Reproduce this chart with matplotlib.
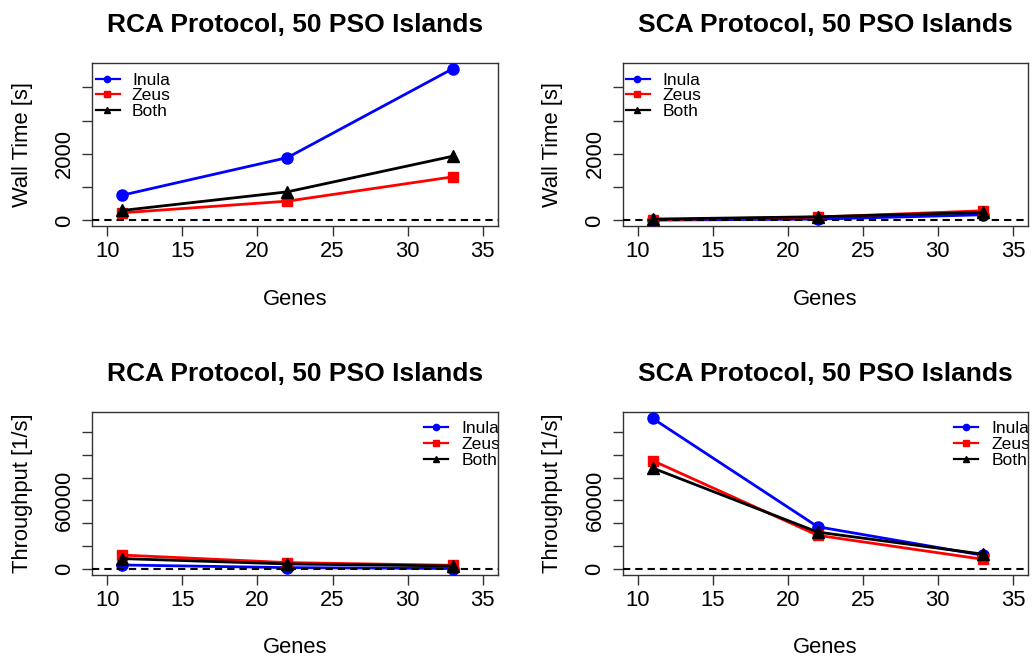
import matplotlib
matplotlib.use("Agg")
import matplotlib.pyplot as plt

plt.rcParams['font.family'] = ['Liberation Sans', 'DejaVu Sans']

# ---------------- data ----------------
genes = [11, 22, 33]
series_names = ["Inula", "Zeus", "Both"]

rca_wall_inula = [760, 1890, 4560]
rca_wall_zeus = [230, 580, 1310]
rca_wall_both = [300, 860, 1930]

sca_wall_inula = [10, 40, 170]
sca_wall_zeus = [20, 100, 290]
sca_wall_both = [40, 110, 240]

rca_thr_inula = [3500, 1200, 400]
rca_thr_zeus = [12200, 5600, 3200]
rca_thr_both = [9100, 4400, 2600]

sca_thr_inula = [132000, 37000, 12000]
sca_thr_zeus = [95000, 29500, 8500]
sca_thr_both = [88500, 32300, 13000]

x_ticks = [10, 15, 20, 25, 30, 35]
wall_ticks = [0, 1000, 2000, 3000, 4000]
wall_tick_labels = ["0", "", "2000", "", ""]
thr_ticks = [0, 20000, 40000, 60000, 80000, 100000, 120000]
thr_tick_labels = ["0", "", "", "60000", "", "", ""]

titles = ["RCA Protocol, 50 PSO Islands", "SCA Protocol, 50 PSO Islands"]

# ---------------- style ----------------
colors = ["#0000FF", "#FF0000", "#000000"]
markers = ["o", "s", "^"]
msizes = [8, 6.5, 8.5]
leg_msizes = [4.5, 4.0, 5.0]
FS_AX = 15.8
FS_TITLE = 19
FS_LEG = 12.6
SPINE = "#333333"

W, H = 1032, 658
fig = plt.figure(figsize=(W / 100, H / 100), dpi=100)


def px_axes(left, top, right, bottom):
    return fig.add_axes([left / W, 1 - bottom / H, (right - left) / W, (bottom - top) / H])


ax_tl = px_axes(92.3, 62.7, 497.7, 226.5)
ax_tr = px_axes(622.5, 62.7, 1027.9, 226.5)
ax_bl = px_axes(92.3, 412.3, 497.7, 575.0)
ax_br = px_axes(622.5, 412.3, 1027.9, 575.0)

wall_max = max(rca_wall_inula + rca_wall_zeus + rca_wall_both +
               sca_wall_inula + sca_wall_zeus + sca_wall_both)
thr_max = max(rca_thr_inula + rca_thr_zeus + rca_thr_both +
              sca_thr_inula + sca_thr_zeus + sca_thr_both)


def draw_legend(ax, x_line0, x_mark, x_line1, x_text, rows):
    for name, c, m, ms, fy in zip(series_names, colors, markers, leg_msizes, rows):
        ax.plot([x_line0, x_line1], [fy, fy], color=c, lw=1.6,
                transform=ax.transAxes, clip_on=True, zorder=6)
        ax.plot([x_mark], [fy], color=c, marker=m, ms=ms, lw=0,
                transform=ax.transAxes, clip_on=True, zorder=6)
        ax.text(x_text, fy, name, fontsize=FS_LEG, ha="left", va="center_baseline",
                transform=ax.transAxes, clip_on=True, zorder=6)


def panel(ax, data, ymax, yticks, ylabels, ylabel, title, legend_pos):
    for vals, c, m, ms in zip(data, colors, markers, msizes):
        ax.plot(genes, vals, color=c, marker=m, ms=ms, lw=2, zorder=3)
    ax.axhline(0, color="black", lw=1.5, dashes=(3.5, 2.4), zorder=4)
    ax.set_xlim(9, 36)
    ax.set_ylim(-0.04 * ymax, 1.04 * ymax)
    ax.set_xticks(x_ticks)
    ax.set_xticklabels([str(t) for t in x_ticks], fontsize=FS_AX)
    ax.set_yticks(yticks)
    ax.set_yticklabels(ylabels, fontsize=FS_AX, rotation=90, va="center")
    ax.tick_params(axis="both", direction="out", length=7.2, width=1.0, color=SPINE)
    ax.tick_params(axis="x", pad=3.5)
    ax.tick_params(axis="y", pad=5)
    for s in ax.spines.values():
        s.set_color(SPINE)
        s.set_linewidth(1.0)
    ax.set_xlabel("Genes", fontsize=FS_AX)
    ax.xaxis.label.set_va("baseline")
    ax.xaxis.set_label_coords(0.5, -0.479)
    ax.set_ylabel(ylabel, fontsize=FS_AX)
    ax.yaxis.label.set_rotation_mode("anchor")
    ax.yaxis.label.set_va("baseline")
    ax.yaxis.label.set_ha("center")
    ax.yaxis.set_label_coords(-0.158, 0.5)
    ax.set_title(title, fontsize=FS_TITLE, fontweight="bold", y=1.19, pad=0)
    if legend_pos == "topleft":
        draw_legend(ax, 0.0084, 0.037, 0.0683, 0.0979, [0.9005, 0.8071, 0.7094])
    else:
        draw_legend(ax, 0.8182, 0.8484, 0.8774, 0.9100, [0.9078, 0.8131, 0.7111])


panel(ax_tl, [rca_wall_inula, rca_wall_zeus, rca_wall_both], wall_max,
      wall_ticks, wall_tick_labels, "Wall Time [s]", titles[0], "topleft")
panel(ax_tr, [sca_wall_inula, sca_wall_zeus, sca_wall_both], wall_max,
      wall_ticks, wall_tick_labels, "Wall Time [s]", titles[1], "topleft")
panel(ax_bl, [rca_thr_inula, rca_thr_zeus, rca_thr_both], thr_max,
      thr_ticks, thr_tick_labels, "Throughput [1/s]", titles[0], "topright")
panel(ax_br, [sca_thr_inula, sca_thr_zeus, sca_thr_both], thr_max,
      thr_ticks, thr_tick_labels, "Throughput [1/s]", titles[1], "topright")

fig.savefig("out.png", dpi=100)
